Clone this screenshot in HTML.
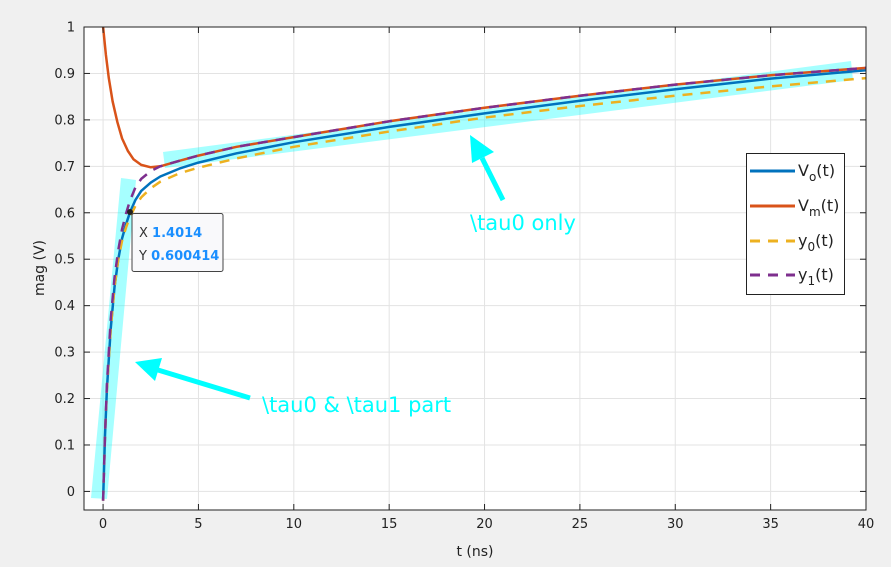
<!DOCTYPE html>
<html><head><meta charset="utf-8"><style>
body{margin:0;background:#f0f0f0;font-family:"Liberation Sans","DejaVu Sans",sans-serif;overflow:hidden;}
svg{display:block;}
svg text{font-family:"DejaVu Sans","Liberation Sans",sans-serif;}
</style></head><body>
<svg id="chart" width="891" height="567" viewBox="0 0 891 567">
<rect x="0" y="0" width="891" height="567" fill="#f0f0f0"/>
<rect x="84" y="27" width="782" height="483" fill="#fff"/>
<g id="grid"></g>
<g id="bands">
<polygon points="91,498 107,499 136,180 121,178" fill="#00ffff" fill-opacity="0.35"/>
<polygon points="163,152 851,61 853,80 165,168" fill="#00ffff" fill-opacity="0.35"/>
</g>
<g id="series"></g>
<g id="axes"></g>
<g>
<line x1="503" y1="200" x2="482" y2="158" stroke="#00ffff" stroke-width="5"/>
<polygon points="470,135 494,152 472,163" fill="#00ffff"/>
</g>
<g>
<line x1="250" y1="398" x2="158" y2="370" stroke="#00ffff" stroke-width="5"/>
<polygon points="135,362 162,358 155,381" fill="#00ffff"/>
</g>
<text x="470" y="230" font-size="21" fill="#00ffff">\tau0 only</text>
<text x="262" y="412" font-size="21" fill="#00ffff">\tau0 &amp; \tau1 part</text>
<g>
<circle cx="130" cy="212" r="3" fill="#222"/>
<rect x="132" y="213.5" width="91" height="58" fill="#f9f9fb" stroke="#444" stroke-width="1" rx="2"/>
<text x="139" y="237" font-size="13" fill="#333">X <tspan fill="#1a8fff" font-weight="bold">1.4014</tspan></text>
<text x="139" y="260" font-size="13" fill="#333">Y <tspan fill="#1a8fff" font-weight="bold">0.600414</tspan></text>
</g>
<g>
<rect x="746.5" y="153.5" width="98" height="141" fill="#fff" stroke="#222" stroke-width="1"/>
<line x1="750" y1="171" x2="795" y2="171" stroke="#0072BD" stroke-width="3"/>
<text x="798" y="176" font-size="16" fill="#222">V<tspan font-size="12" dy="5">o</tspan><tspan dy="-5">(t)</tspan></text>
<line x1="750" y1="206" x2="795" y2="206" stroke="#D95319" stroke-width="3"/>
<text x="798" y="211" font-size="16" fill="#222">V<tspan font-size="12" dy="5">m</tspan><tspan dy="-5">(t)</tspan></text>
<line x1="750" y1="241" x2="795" y2="241" stroke="#EDB120" stroke-width="3" stroke-dasharray="10,8"/>
<text x="798" y="246" font-size="16" fill="#222">y<tspan font-size="12" dy="5">0</tspan><tspan dy="-5">(t)</tspan></text>
<line x1="750" y1="275" x2="795" y2="275" stroke="#7E2F8E" stroke-width="3" stroke-dasharray="10,8"/>
<text x="798" y="280" font-size="16" fill="#222">y<tspan font-size="12" dy="5">1</tspan><tspan dy="-5">(t)</tspan></text>
</g>
<text x="475" y="556" font-size="14" fill="#222" text-anchor="middle">t (ns)</text>
<text x="44" y="268" font-size="14" fill="#222" text-anchor="middle" transform="rotate(-90 44 268)">mag (V)</text>
</svg>
<script>
const xTicks=[0,5,10,15,20,25,30,35,40];
const yTicks=[0,0.1,0.2,0.3,0.4,0.5,0.6,0.7,0.8,0.9,1];
const yTickLabels=["0","0.1","0.2","0.3","0.4","0.5","0.6","0.7","0.8","0.9","1"];
const voT=[0,0.1,0.2,0.4,0.6,0.8,1.0,1.2,1.4,1.7,2,2.5,3,4,5,7,10,15,20,25,30,35,40];
const voV=[-0.02,0.12,0.22,0.35,0.44,0.5,0.545,0.575,0.6,0.628,0.647,0.665,0.678,0.695,0.708,0.728,0.752,0.785,0.814,0.841,0.866,0.889,0.907];
const vmT=[0,0.15,0.3,0.5,0.75,1,1.3,1.6,2,2.5,3,4,5,7,10,15,20,25,30,35,40];
const vmV=[1.0,0.94,0.89,0.84,0.795,0.76,0.733,0.715,0.703,0.698,0.7,0.712,0.723,0.742,0.763,0.797,0.826,0.852,0.876,0.896,0.912];
const y0T=[0,0.1,0.2,0.4,0.6,0.8,1.0,1.2,1.4,1.7,2,2.5,3,4,5,7,10,15,20,25,30,35,40];
const y0V=[-0.02,0.12,0.22,0.35,0.44,0.5,0.54,0.568,0.59,0.615,0.633,0.653,0.667,0.685,0.697,0.717,0.742,0.775,0.805,0.83,0.852,0.872,0.89];
const y1T=[0,0.1,0.2,0.4,0.6,0.8,1.0,1.2,1.4,1.7,2,2.5,3,4,5,7,10,15,20,25,30,35,40];
const y1V=[-0.02,0.12,0.23,0.37,0.46,0.52,0.565,0.598,0.625,0.655,0.673,0.69,0.7,0.712,0.723,0.742,0.763,0.797,0.826,0.852,0.876,0.896,0.912];
const X0=84,X1=866,Y0=27,Y1=510,XMIN=-1,XMAX=40,YMIN=-0.04,YMAX=1;
const sx=v=>X0+(v-XMIN)/(XMAX-XMIN)*(X1-X0);
const sy=v=>Y1-(v-YMIN)/(YMAX-YMIN)*(Y1-Y0);
const NS="http://www.w3.org/2000/svg";
const grid=document.getElementById('grid'),axes=document.getElementById('axes'),ser=document.getElementById('series');
function mk(tag,attrs,parent){const e=document.createElementNS(NS,tag);for(const k in attrs)e.setAttribute(k,attrs[k]);parent.appendChild(e);return e;}
xTicks.forEach(t=>{
 const g=mk('line',{x1:sx(t),x2:sx(t),y1:Y0,y2:Y1,stroke:'#e3e3e3','stroke-width':1},grid);
 
 
 mk('line',{x1:sx(t),x2:sx(t),y1:Y1,y2:Y1-6,stroke:'#222'},axes);
 mk('line',{x1:sx(t),x2:sx(t),y1:Y0,y2:Y0+6,stroke:'#222'},axes);
 const l=mk('text',{x:sx(t),y:Y1+18,'font-size':13,fill:'#222','text-anchor':'middle'},axes);
 l.textContent=String(t);
 
 
});
yTicks.forEach((t,i)=>{
 const g=mk('line',{x1:X0,x2:X1,y1:sy(t),y2:sy(t),stroke:'#e3e3e3','stroke-width':1},grid);
 
 
 mk('line',{x1:X0,x2:X0+6,y1:sy(t),y2:sy(t),stroke:'#222'},axes);
 mk('line',{x1:X1,x2:X1-6,y1:sy(t),y2:sy(t),stroke:'#222'},axes);
 const l=mk('text',{x:X0-9,y:sy(t)+4.5,'font-size':13,fill:'#222','text-anchor':'end'},axes);
 l.textContent=yTickLabels[i];
 
 
});
const box=mk('rect',{x:X0,y:Y0,width:X1-X0,height:Y1-Y0,fill:'none',stroke:'#222','stroke-width':1},axes);


function draw(T,V,color,dash,name){
 const d=T.map((t,i)=>(i?'L':'M')+sx(t).toFixed(1)+','+sy(V[i]).toFixed(1)).join(' ');
 const p=mk('path',{d:d,fill:'none',stroke:color,'stroke-width':2.5,'stroke-linejoin':'round'},ser);
 if(dash)p.setAttribute('stroke-dasharray',dash);
 
 
}
draw(voT,voV,'#0072BD',null,'series-vo');
draw(vmT,vmV,'#D95319',null,'series-vm');
draw(y0T,y0V,'#EDB120','10,8','series-y0');
draw(y1T,y1V,'#7E2F8E','10,8','series-y1');
</script>
</body></html>
